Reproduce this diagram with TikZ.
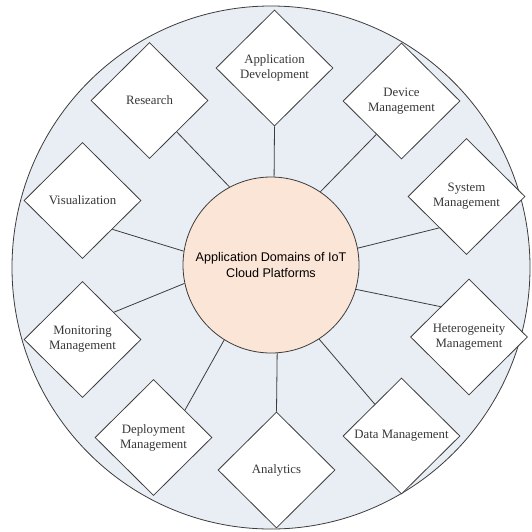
\documentclass[tikz,border=0pt]{standalone}
\usepackage{fontspec}
\setmainfont{Liberation Serif}
\newfontfamily\centerfont{Liberation Sans}
\usetikzlibrary{shapes.geometric}
\definecolor{ringfill}{RGB}{233,237,244}
\definecolor{hubfill}{RGB}{251,229,214}
\definecolor{linegray}{RGB}{60,60,60}
\definecolor{txtgray}{RGB}{55,55,55}
\tikzset{
  domainbox/.style={shape=diamond, draw=linegray, line width=0.8pt, fill=white,
    minimum width=117pt, minimum height=116pt, inner sep=0pt, align=center,
    text=txtgray, font=\fontsize{12.8}{15}\selectfont},
  hubbox/.style={circle, draw=linegray, line width=0.8pt, fill=hubfill,
    minimum size=176pt, inner sep=0pt, align=center,
    font=\centerfont\fontsize{12.6}{16}\selectfont},
  linkline/.style={draw=linegray, line width=0.8pt}
}
\begin{document}
\begin{tikzpicture}[x=1pt,y=-1pt]
\useasboundingbox (0,0) rectangle (532,531);
\draw[draw=linegray, line width=0.8pt, fill=ringfill] (271,267.5) ellipse [x radius=259pt, y radius=261.5pt];
\node[hubbox] (c) at (271,265) {Application Domains of IoT\\Cloud Platforms};
\node[domainbox] (ad) at (274.5,68) {Application\\Development};
\node[domainbox] (res) at (149.5,100.5) {Research};
\node[domainbox] (dev) at (401.5,101) {Device\\Management};
\node[domainbox] (vis) at (82.5,200.5) {Visualization};
\node[domainbox] (sys) at (466.5,196.5) {System\\Management};
\node[domainbox] (mon) at (82.5,339.5) {Monitoring\\Management};
\node[domainbox] (het) at (469,337) {Heterogeneity\\Management};
\node[domainbox] (dep) at (153.5,437.5) {Deployment\\Management};
\node[domainbox] (dat) at (401.5,436) {Data Management};
\node[domainbox] (ana) at (276.5,470) {Analytics};
\draw[linkline] (ad.south) -- (c.88);
\draw[linkline] (res.-49) -- (c.118.6);
\draw[linkline] (vis.-44) -- (c.171);
\draw[linkline] (dev.-127) -- (c.56.7);
\draw[linkline] (sys.229) -- (c.11.8);
\draw[linkline] (het.133) -- (c.-16);
\draw[linkline] (dat.130) -- (c.-57);
\draw[linkline] (ana.north) -- (c.-86.5);
\draw[linkline] (dep.41) -- (c.238);
\draw[linkline] (mon.41) -- (c.192.7);
\end{tikzpicture}
\end{document}
